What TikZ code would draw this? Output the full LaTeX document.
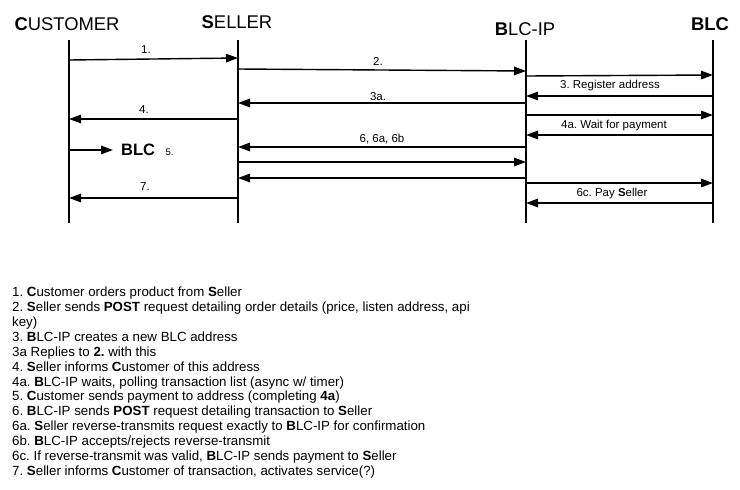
\documentclass[tikz,border=0pt]{standalone}
\usepackage{fontspec}
\setmainfont{Liberation Sans}
\usetikzlibrary{arrows.meta}
\frenchspacing
\tikzset{
  lifeline/.style={line width=1.4pt},
  msg/.style={line width=1.4pt,-{Triangle[length=12pt,width=8.5pt]}},
  head/.style={font=\fontsize{18.4}{20}\selectfont, inner sep=0pt, anchor=base},
  lbl/.style={font=\fontsize{11.5}{13}\selectfont, inner sep=0pt, anchor=base},
  note/.style={font=\fontsize{13.3}{15}\selectfont, inner sep=0pt, anchor=base west},
}
\begin{document}
\begin{tikzpicture}[x=1pt,y=-1pt]
\useasboundingbox (0,0) rectangle (740,490);
% headers
\node[head] (hC) at (67,30) {\textbf{C}USTOMER};
\node[head] (hS) at (237,28.5) {\textbf{S}ELLER};
\node[head] (hI) at (525,35) {\textbf{B}LC-IP};
\node[head] (hB) at (710,30) {\textbf{BLC}};
% lifelines
\coordinate (C) at (69,40);  \coordinate (Cb) at (69,223);
\coordinate (S) at (238,40); \coordinate (Sb) at (238,223);
\coordinate (I) at (526,40); \coordinate (Ib) at (526,223);
\coordinate (B) at (713,40); \coordinate (Bb) at (713,223);
\draw[lifeline] (C) -- (Cb);
\draw[lifeline] (S) -- (Sb);
\draw[lifeline] (I) -- (Ib);
\draw[lifeline] (B) -- (Bb);
% messages
\draw[msg] (C |- 0,60) -- (S |- 0,58);
\node[lbl] (l1) at (146,53) {1.};
\draw[msg] (S |- 0,69) -- (I |- 0,71);
\node[lbl] (l2) at (378,65) {2.};
\draw[msg] (I |- 0,76) -- (B |- 0,75);
\node[lbl] (l3) at (610,88.5) {3. Register address};
\draw[msg] (B |- 0,96) -- (I |- 0,96);
\draw[msg] (I |- 0,103) -- (S |- 0,103);
\node[lbl] (l3a) at (378,100) {3a.};
\draw[msg] (S |- 0,119) -- (C |- 0,119);
\node[lbl] (l4) at (144,113.5) {4.};
\draw[msg] (I |- 0,115) -- (B |- 0,115);
\node[lbl] (l4a) at (614,128.5) {4a. Wait for payment};
\draw[msg] (B |- 0,135) -- (I |- 0,135);
\draw[msg] (I |- 0,147) -- (S |- 0,147);
\node[lbl] (l6) at (382,142.5) {6, 6a, 6b};
\coordinate (p5) at (113,150);
\draw[msg] (C |- p5) -- (p5);
\node[font=\fontsize{16.5}{18}\selectfont\bfseries, inner sep=0pt, anchor=base west] (blc5) at (121,155.5) {BLC};
\node[font=\fontsize{9.5}{11}\selectfont, inner sep=0pt, anchor=base west] (l5) at (165.5,155.5) {5.};
\draw[msg] (S |- 0,162) -- (I |- 0,162);
\draw[msg] (I |- 0,178) -- (S |- 0,178);
\draw[msg] (I |- 0,183) -- (B |- 0,183);
\draw[msg] (S |- 0,198) -- (C |- 0,198);
\node[lbl] (l7) at (145,190) {7.};
\draw[msg] (B |- 0,203) -- (I |- 0,203);
\node[lbl] (l6c) at (612,196.5) {6c. Pay \textbf{S}eller};
% notes
\node[note] (n1) at (12,296.6) {1. \textbf{C}ustomer orders product from \textbf{S}eller};
\node[note] (n2) at (12,311.5) {2. \textbf{S}eller sends \textbf{POST} request detailing order details (price, listen address, api};
\node[note] (n3) at (12,326.4) {key)};
\node[note] (n4) at (12,341.3) {3. \textbf{B}LC-IP creates a new BLC address};
\node[note] (n5) at (12,356.2) {3a Replies to \textbf{2.} with this};
\node[note] (n6) at (12,371.1) {4. \textbf{S}eller informs \textbf{C}ustomer of this address};
\node[note] (n7) at (12,386) {4a. \textbf{B}LC-IP waits, polling transaction list (async w/ timer)};
\node[note] (n8) at (12,400.9) {5. \textbf{C}ustomer sends payment to address (completing \textbf{4a})};
\node[note] (n9) at (12,415.8) {6. \textbf{B}LC-IP sends \textbf{POST} request detailing transaction to \textbf{S}eller};
\node[note] (n10) at (12,430.7) {6a. \textbf{S}eller reverse-transmits request exactly to \textbf{B}LC-IP for confirmation};
\node[note] (n11) at (12,445.6) {6b. \textbf{B}LC-IP accepts/rejects reverse-transmit};
\node[note] (n12) at (12,460.5) {6c. If reverse-transmit was valid, \textbf{B}LC-IP sends payment to \textbf{S}eller};
\node[note] (n13) at (12,475.4) {7. \textbf{S}eller informs \textbf{C}ustomer of transaction, activates service(?)};
\end{tikzpicture}
\end{document}
